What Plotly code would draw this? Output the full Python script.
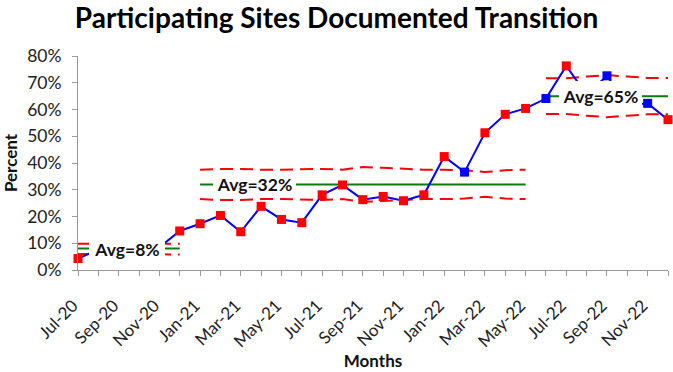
import plotly.graph_objects as go

# ---- data ----
months = ["Jul-20", "Aug-20", "Sep-20", "Oct-20", "Nov-20", "Dec-20",
          "Jan-21", "Feb-21", "Mar-21", "Apr-21", "May-21", "Jun-21",
          "Jul-21", "Aug-21", "Sep-21", "Oct-21", "Nov-21", "Dec-21",
          "Jan-22", "Feb-22", "Mar-22", "Apr-22", "May-22", "Jun-22",
          "Jul-22", "Aug-22", "Sep-22", "Oct-22", "Nov-22", "Dec-22"]
pct = [4.3, 7.6, 6.5, 6.5, 8.5, 14.6,
       17.3, 20.4, 14.3, 23.8, 18.9, 17.7,
       28.1, 31.8, 26.3, 27.5, 25.9, 28.1,
       42.4, 36.6, 51.3, 58.2, 60.4, 64.1,
       76.3, 65.5, 72.6, 61.5, 62.3, 56.2]
blue_months = ["Feb-22", "Jun-22", "Sep-22", "Nov-22"]

ucl = [9.8, 9.8, 9.8, 9.8, 9.8, 9.8,
       37.5, 37.8, 37.8, 37.5, 37.5, 37.7,
       37.8, 37.5, 38.5, 38.2, 37.8, 37.5,
       37.5, 37.3, 36.6, 37.3, 37.5, 71.7,
       71.7, 72.3, 72.9, 72.3, 71.8, 71.8]
lcl = [6.0, 6.0, 6.0, 6.0, 6.0, 5.8,
       26.5, 26.2, 26.2, 26.5, 26.5, 26.3,
       26.2, 26.5, 25.5, 25.8, 26.2, 26.5,
       26.5, 26.7, 27.4, 26.7, 26.5, 58.3,
       58.3, 57.7, 57.1, 57.7, 58.2, 58.2]

seg_start = ["Jul-20", "Jan-21", "Jun-22"]
seg_end = ["Dec-20", "May-22", "Dec-22"]
seg_avg = [8, 32, 65]
seg_label = ["Avg=8%", "Avg=32%", "Avg=65%"]

y_ticks = [0, 10, 20, 30, 40, 50, 60, 70, 80]
x_tick_labels = months[::2]

# ---- figure ----
RED = "#FF0000"
BLUE = "#0000FF"
GREEN = "#0A7A0A"
FONT = "Lato"

fig = go.Figure()

for s, e, avg in zip(seg_start, seg_end, seg_avg):
    i0, i1 = months.index(s), months.index(e) + 1
    xs = months[i0:i1]
    fig.add_trace(go.Scatter(x=xs, y=ucl[i0:i1], mode="lines",
                             line=dict(color=RED, width=2, dash="13px,7px"),
                             hoverinfo="skip", showlegend=False))
    fig.add_trace(go.Scatter(x=xs, y=lcl[i0:i1], mode="lines",
                             line=dict(color=RED, width=2, dash="13px,7px"),
                             hoverinfo="skip", showlegend=False))
    fig.add_trace(go.Scatter(x=[xs[0], xs[-1]], y=[avg, avg], mode="lines",
                             line=dict(color=GREEN, width=2),
                             hoverinfo="skip", showlegend=False))

colors = [BLUE if m in blue_months else RED for m in months]
fig.add_trace(go.Scatter(x=months, y=pct, mode="lines+markers",
                         line=dict(color=BLUE, width=2),
                         marker=dict(symbol="square", size=9, color=colors,
                                     line=dict(width=0)),
                         cliponaxis=False, showlegend=False))

# label boxes (white background covers the lines beneath)
box_x = [2.40, 8.67, 25.68]
box_y = [7.9, 32.0, 64.9]
box_w = [76, 83, 83]
box_h = [20, 24, 31]
for lab, bx, by, bw, bh in zip(seg_label, box_x, box_y, box_w, box_h):
    fig.add_annotation(x=bx, y=by, xref="x", yref="y", text="<b>" + lab + "</b>",
                       showarrow=False, bgcolor="white", width=bw, height=bh,
                       borderpad=0, borderwidth=0,
                       font=dict(family=FONT, size=17.5, color="#111111"))

fig.update_layout(
    width=673, height=372,
    margin=dict(l=77, r=5, t=56, b=97),
    paper_bgcolor="white", plot_bgcolor="white",
    title=dict(text="<b>Participating Sites Documented Transition</b>",
               x=0.5, xref="container", xanchor="center",
               y=1 - 18.5 / 372, yref="container", yanchor="middle",
               font=dict(family=FONT, size=28, color="#000000")),
    font=dict(family=FONT, color="#222222"),
)
fig.update_xaxes(type="category", categoryorder="array", categoryarray=months,
                 range=[0, len(months) - 1],
                 tickmode="array", tickvals=months,
                 ticktext=[m if m in x_tick_labels else "" for m in months],
                 tickangle=-45, tickfont=dict(size=17, color="#222222"),
                 ticks="outside", ticklen=5, tickcolor="#999999",
                 ticklabelstandoff=13, ticklabelshift=-5,
                 showline=True, linecolor="#999999", linewidth=1,
                 showgrid=False, zeroline=False,
                 title=dict(text="<b>Months</b>", font=dict(size=17, color="#111111"),
                            standoff=4))
fig.update_yaxes(range=[0, 80], tickvals=y_ticks,
                 ticktext=[f"{v}%" for v in y_ticks],
                 tickfont=dict(size=17.5, color="#222222"),
                 ticks="outside", ticklen=5, tickcolor="#999999",
                 ticklabelstandoff=7,
                 showline=True, linecolor="#999999", linewidth=1,
                 showgrid=False, zeroline=False,
                 title=dict(text="<b>Percent</b>", font=dict(size=17, color="#111111"),
                            standoff=10))

fig.write_html("out.html", post_script="document.body.style.margin='0';",
               config={"displayModeBar": False})
